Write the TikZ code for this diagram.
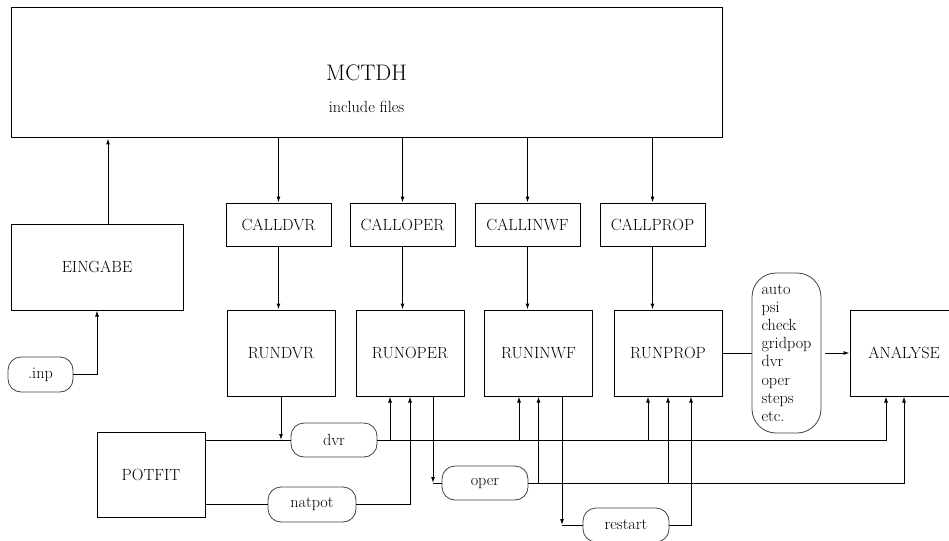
\documentclass[tikz,border=0pt]{standalone}
\usepackage{fontspec}
\usepackage{tikz}
\usetikzlibrary{positioning,calc,arrows.meta}

\begin{document}
\begin{tikzpicture}[x=1pt,y=-1pt,
    font=\fontsize{16.2}{18.1}\selectfont,
    box/.style={draw, line width=1pt, inner sep=0pt},
    pill/.style={draw=black!75, line width=0.8pt, rounded corners=13pt, inner sep=0pt},
    link/.style={line width=1pt},
    arr/.style={line width=1pt, -{Latex[length=6pt,width=4pt]}}]
    \useasboundingbox (0,0) rectangle (949,540);

    % Main program
    \node [box, minimum width=711pt, minimum height=130pt] (mctdh) at (366.5,73) {};
    \node [font=\fontsize{22.5}{26}\selectfont] (mctdhname) at (366.5,73) {MCTDH};
    \node (incl) at (366.5,107) {include files};

    % Input
    \node [box, minimum width=172pt, minimum height=86pt] (eingabe) at (97,267) {EINGABE};
    \node [pill, minimum width=65pt, minimum height=35pt] (inp) at (40.5,374.5) {.inp};

    % Call routines
    \node [box, minimum width=105pt, minimum height=43pt] (calldvr) at (278.5,224.5) {CALLDVR};
    \node [box, minimum width=105pt, minimum height=43pt] (calloper) at (402.5,224.5) {CALLOPER};
    \node [box, minimum width=105pt, minimum height=43pt] (callinwf) at (527.5,224.5) {CALLINWF};
    \node [box, minimum width=105pt, minimum height=43pt] (callprop) at (652.5,224.5) {CALLPROP};

    % Run routines
    \node [box, minimum width=108pt, minimum height=86pt] (rundvr) at (281,353) {RUNDVR};
    \node [box, minimum width=108pt, minimum height=86pt] (runoper) at (410,353) {RUNOPER};
    \node [box, minimum width=108pt, minimum height=86pt] (runinwf) at (538.5,353) {RUNINWF};
    \node [box, minimum width=108pt, minimum height=86pt] (runprop) at (668,353) {RUNPROP};

    % Output files and analysis
    \node [pill, rounded corners=24pt, minimum width=69pt, minimum height=160pt, align=left]
        (outfiles) at (786.5,353) {auto\\psi\\check\\gridpop\\dvr\\oper\\steps\\etc.};
    \node [box, minimum width=108pt, minimum height=86pt] (analyse) at (904,353) {ANALYSE};

    % Potential fit
    \node [box, minimum width=108pt, minimum height=85pt] (potfit) at (151,474.5) {POTFIT};

    % Data files
    \node [pill, minimum width=86pt, minimum height=34pt] (dvr) at (334,440) {dvr};
    \node [pill, minimum width=88pt, minimum height=35pt] (natpot) at (312,504.5) {natpot};
    \node [pill, minimum width=86pt, minimum height=34pt] (oper) at (485,483) {oper};
    \node [pill, minimum width=86pt, minimum height=34pt] (restart) at (626,525) {restart};

    % Input flow
    \draw [arr] (inp.east) -| (eingabe.south);
    \draw [arr] ([xshift=11pt]eingabe.north) -- ([xshift=11pt]eingabe.north |- mctdh.south);

    % Calls
    \draw [arr] (mctdh.south -| calldvr.north) -- (calldvr.north);
    \draw [arr] (mctdh.south -| calloper.north) -- (calloper.north);
    \draw [arr] (mctdh.south -| callinwf.north) -- (callinwf.north);
    \draw [arr] (mctdh.south -| callprop.north) -- (callprop.north);
    \draw [arr] (calldvr.south) -- (calldvr.south |- rundvr.north);
    \draw [arr] (calloper.south) -- (calloper.south |- runoper.north);
    \draw [arr] (callinwf.south) -- (callinwf.south |- runinwf.north);
    \draw [arr] (callprop.south) -- (callprop.south |- runprop.north);

    % dvr file
    \draw [link] (potfit.east |- dvr.west) -- (dvr.west);
    \draw [arr] (rundvr.south) -- (rundvr.south |- dvr.west);
    \draw [arr] (dvr.east) -| ([xshift=-18pt]analyse.south);
    \draw [arr] ([xshift=-20pt]runoper.south |- dvr.east) -- ([xshift=-20pt]runoper.south);
    \draw [arr] ([xshift=-19.5pt]runinwf.south |- dvr.east) -- ([xshift=-19.5pt]runinwf.south);
    \draw [arr] ([xshift=-20pt]runprop.south |- dvr.east) -- ([xshift=-20pt]runprop.south);

    % natpot file
    \draw [link] (potfit.east |- natpot.west) -- (natpot.west);
    \draw [arr] (natpot.east) -| (runoper.south);

    % oper file
    \coordinate (operin) at ([xshift=23pt]runoper.south |- oper.west);
    \draw [arr] ([xshift=23pt]runoper.south) -- (operin);
    \draw [link] (operin) -- (oper.west);
    \draw [arr] (oper.east) -| (analyse.south);
    \draw [arr] (runinwf.south |- oper.east) -- (runinwf.south);
    \draw [arr] (runprop.south |- oper.east) -- (runprop.south);

    % restart file
    \coordinate (restartin) at ([xshift=23.5pt]runinwf.south |- restart.west);
    \draw [arr] ([xshift=23.5pt]runinwf.south) -- (restartin);
    \draw [link] (restartin) -- (restart.west);
    \draw [arr] (restart.east) -| ([xshift=23pt]runprop.south);

    % Propagation output
    \draw [link] (runprop.east) -- (outfiles.west);
    \draw [arr, shorten <=4pt] (outfiles.east) -- (analyse.west);
\end{tikzpicture}
\end{document}
